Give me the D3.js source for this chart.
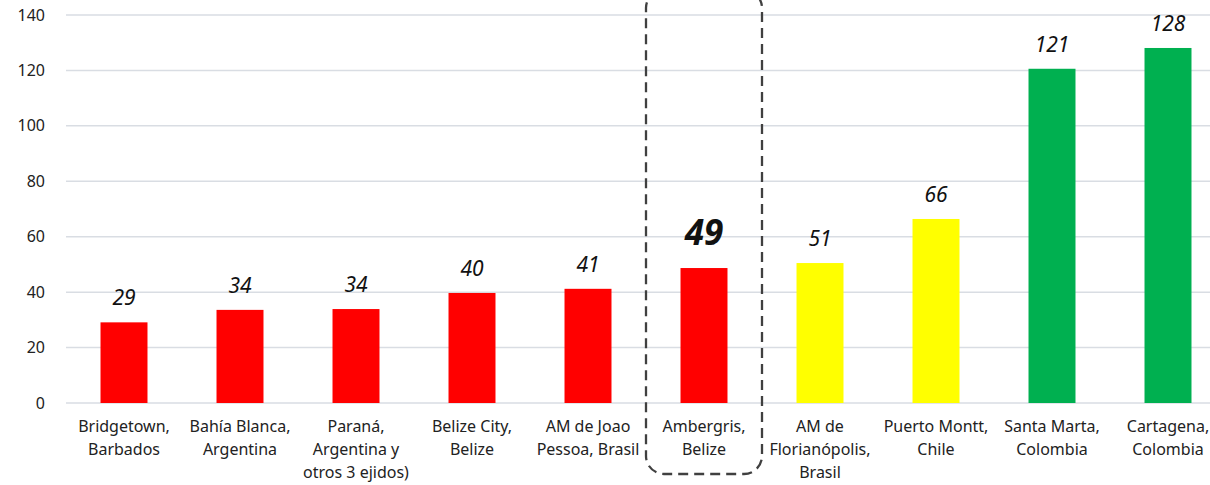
<!DOCTYPE html>
<html>
<head>
<meta charset="utf-8">
<script src="https://cdn.jsdelivr.net/npm/d3@7"></script>
<style>
  body { margin: 0; background: #fff; }
  svg { font-family: "Noto Sans", "Open Sans", sans-serif; }
</style>
</head>
<body>
<div id="chart"></div>
<script>
// data
let categories = [
    ["Bridgetown,", "Barbados"],
    ["Bahía Blanca,", "Argentina"],
    ["Paraná,", "Argentina y", "otros 3 ejidos)"],
    ["Belize City,", "Belize"],
    ["AM de Joao", "Pessoa, Brasil"],
    ["Ambergris,", "Belize"],
    ["AM de", "Florianópolis,", "Brasil"],
    ["Puerto Montt,", "Chile"],
    ["Santa Marta,", "Colombia"],
    ["Cartagena,", "Colombia"]
];
let values = [29.1, 33.6, 33.9, 39.7, 41.2, 48.7, 50.5, 66.4, 120.6, 128.1];
let groups = ["red", "red", "red", "red", "red", "red", "yellow", "yellow", "green", "green"];
let yTicks = [0, 20, 40, 60, 80, 100, 120, 140];
let highlight = 5;

let colors = {red: "#FF0000", yellow: "#FFFF00", green: "#00B050"};

let width = 1210, height = 485;
let margin = {top: 15, left: 66, bottom: 82};
let plotRight = 1226;

let svg = d3.select("#chart").append("svg")
    .attr("width", width)
    .attr("height", height);

let idx = d3.range(categories.length);

let x = d3.scaleBand()
    .domain(idx)
    .range([margin.left, plotRight])
    .paddingInner(0.595)
    .paddingOuter(0.2975);

let y = d3.scaleLinear()
    .domain([0, 140])
    .range([height - margin.bottom, margin.top]);

// gridlines
svg.append("g")
    .selectAll("line")
    .data(yTicks)
    .join("line")
        .attr("x1", margin.left)
        .attr("x2", width)
        .attr("y1", d => y(d))
        .attr("y2", d => y(d))
        .attr("stroke", "#D9DDE3")
        .attr("stroke-width", 1.5);

// y axis labels
let yAxis = d3.axisLeft(y).tickValues(yTicks).tickSize(0).tickPadding(0);
let gy = svg.append("g")
    .attr("transform", "translate(45,0)")
    .call(yAxis);
gy.select(".domain").remove();
gy.selectAll("text")
    .attr("font-size", "16px")
    .attr("fill", "#222")
    .attr("font-family", "Noto Sans, sans-serif");

// bars
svg.append("g")
    .selectAll("rect")
    .data(idx)
    .join("rect")
        .attr("x", i => x(i))
        .attr("width", x.bandwidth())
        .attr("y", i => y(values[i]))
        .attr("height", i => y(0) - y(values[i]))
        .attr("fill", i => colors[groups[i]]);

// value labels
svg.append("g")
    .selectAll("text")
    .data(idx)
    .join("text")
        .attr("x", i => x(i) + x.bandwidth() / 2)
        .attr("y", i => y(values[i]) - (i === highlight ? 23 : 17))
        .attr("text-anchor", "middle")
        .attr("font-style", "italic")
        .attr("font-weight", i => i === highlight ? "bold" : "normal")
        .attr("font-size", i => i === highlight ? "35px" : "21px")
        .attr("fill", "#111")
        .text(i => d3.format(".0f")(values[i]));

// category labels
let catG = svg.append("g")
    .selectAll("text")
    .data(idx)
    .join("text")
        .attr("x", i => x(i) + x.bandwidth() / 2)
        .attr("y", 432)
        .attr("text-anchor", "middle")
        .attr("font-size", "16px")
        .attr("fill", "#222");

catG.selectAll("tspan")
    .data(i => categories[i].map(t => ({t: t, cx: x(i) + x.bandwidth() / 2})))
    .join("tspan")
        .attr("x", d => d.cx)
        .attr("dy", (d, j) => j === 0 ? 0 : 23)
        .text(d => d.t);

// dashed highlight box
let step = x.step();
let cx = x(highlight) + x.bandwidth() / 2;
svg.append("rect")
    .attr("x", cx - step / 2)
    .attr("y", -10)
    .attr("width", step)
    .attr("height", 484)
    .attr("rx", 18)
    .attr("ry", 18)
    .attr("fill", "none")
    .attr("stroke", "#404040")
    .attr("stroke-width", 2.3)
    .attr("stroke-dasharray", "10,6");
</script>
</body>
</html>
